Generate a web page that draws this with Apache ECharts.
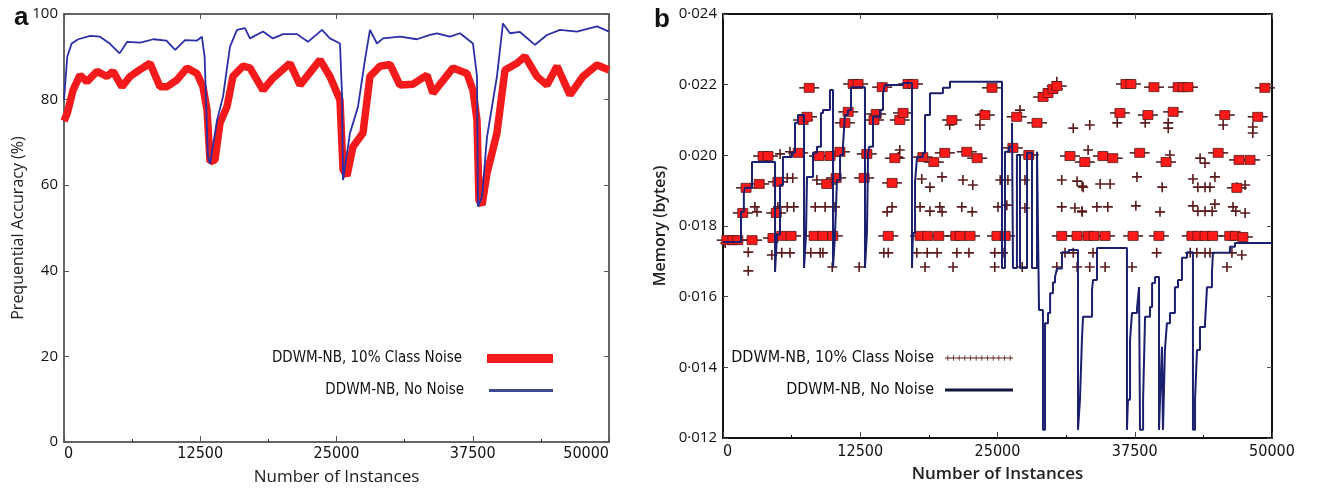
<!DOCTYPE html>
<html>
<head>
<meta charset="utf-8">
<script src="https://cdn.jsdelivr.net/npm/echarts@6/dist/echarts.min.js"></script>
<style>
html, body { margin: 0; padding: 0; background: #fff; }
#chart { width: 1317px; height: 488px; }
</style>
</head>
<body>
<div id="chart"></div>
<script>
// 横轴刻度（实例数）
var instanceTicks = [0, 12500, 25000, 37500, 50000];
var accTicks = [0, 20, 40, 60, 80, 100];
var memTicks = ['0·012', '0·014', '0·016', '0·018', '0·020', '0·022', '0·024'];

var nameNoise = 'DDWM-NB, 10% Class Noise';
var nameClean = 'DDWM-NB, No Noise';

// a: 准确率，无噪声
var accNoNoise = [
	[0, 80], [300, 90], [700, 93.1], [1300, 94.1], [2400, 94.9], [3300, 94.7], [4200, 93.1], [5100, 90.8],
	[5800, 93.5], [7000, 93.3], [8200, 94.1], [9400, 93.8], [10200, 91.6], [11100, 93.9], [12200, 93.8],
	[12650, 94.7], [12900, 90], [13200, 66.7], [13400, 65], [14040, 75.2], [14590, 80.7], [15230, 92.4],
	[15870, 96.3], [16600, 96.7], [17060, 94.3], [18260, 95.9], [19170, 94.3], [20090, 95.3], [21380, 95.3],
	[22380, 93.5], [23670, 96.3], [24400, 94.3], [25320, 93.1], [25500, 81.5], [25600, 61.2], [26240, 72.2],
	[26970, 78.3], [27610, 89.3], [28070, 96.3], [28710, 93.1], [29270, 94.3], [30820, 94.7], [32380, 94.1],
	[33580, 95.1], [34220, 95.5], [35410, 94.7], [36330, 95.5], [37520, 93.1], [37890, 85.4], [37980, 55],
	[38350, 57.3], [38810, 71.3], [39720, 85.4], [40270, 97.8], [40920, 95.5], [41830, 95.8], [43210, 92.8],
	[44310, 95.1], [45500, 96.3], [47060, 95.9], [48900, 97.1], [50000, 95.9]
];
// a: 准确率，10%类别噪声
var accNoise = [
	[0, 75], [300, 76.8], [830, 82.2], [1470, 85.7], [2110, 84.2], [3030, 86.6], [3940, 85.4],
	[4500, 86.6], [5320, 83], [6060, 85.4], [6970, 87], [7890, 88.5], [8810, 83], [9450, 83], [10370, 84.6],
	[11290, 87.4], [12200, 86.1], [12750, 83], [13120, 77.6], [13400, 65.5], [13850, 65.9], [14310, 74.5],
	[14950, 78.3], [15500, 85.4], [16420, 87.8], [17060, 87.4], [18260, 82.2], [19170, 85], [20730, 88.5],
	[21650, 83.4], [23490, 89.3], [24400, 85.4], [25320, 79.9], [25600, 63.6], [25960, 62.2], [26510, 69],
	[27430, 72.2], [28070, 85.4], [28990, 87.8], [29910, 88.2], [30820, 83.4], [32020, 83.6], [33300, 85.7],
	[33850, 81.5], [35690, 87.4], [36970, 86.1], [37520, 82.2], [37890, 75.2], [38070, 56.5], [38350, 55.4],
	[38810, 62.8], [39720, 72.2], [40460, 86.9], [41560, 88.5], [42290, 90.1], [43390, 85.4], [44310, 83.4],
	[45230, 87.8], [46420, 81.1], [47610, 85.4], [48900, 88.1], [50000, 86.9]
];

// b: 内存，无噪声（阶梯线，每点为新台阶起点）
var memNoNoise = [
	[0, 0.01755], [1640, 0.0184], [1900, 0.01893], [2000, 0.01908], [2640, 0.01981], [4740, 0.0167],
	[4920, 0.01775], [5190, 0.01916], [5460, 0.01995], [6280, 0.02007], [6560, 0.02092], [6830, 0.02114], [7380, 0.01681],
	[7560, 0.01775], [7650, 0.01939], [8200, 0.02007], [8560, 0.02024], [8920, 0.0212], [9110, 0.02128], [9740, 0.02185], [10020, 0.01684],
	[10200, 0.01775], [10380, 0.0193], [10660, 0.02001], [10930, 0.02029], [11110, 0.02114], [11380, 0.02128], [11660, 0.02193], [12930, 0.01681],
	[13110, 0.0178], [13210, 0.02001], [13300, 0.02024], [13660, 0.02109], [14300, 0.02128], [14570, 0.02176], [14750, 0.02199], [16390, 0.02205], [17210, 0.01681],
	[17300, 0.0178], [17490, 0.01925], [17670, 0.01995], [18210, 0.02007], [18400, 0.02114], [18850, 0.02176], [20030, 0.02191], [20670, 0.02208], [25410, 0.01681],
	[25680, 0.0201], [26050, 0.02024], [26320, 0.02092], [26410, 0.01681], [26770, 0.02001], [27050, 0.01681],
	[27690, 0.02007], [28140, 0.01681], [28600, 0.0201], [28780, 0.01562], [29140, 0.01223],
	[29330, 0.01525], [29600, 0.01554], [29790, 0.0161], [30050, 0.0164], [30240, 0.01656], [30420, 0.0168], [30870, 0.01726], [31500, 0.01732], [32330, 0.01223],
	[32510, 0.01308], [32690, 0.01477], [32790, 0.01543], [33610, 0.01619], [33700, 0.01647], [34060, 0.01738], [36790, 0.01223],
	[36880, 0.01308], [37070, 0.01477], [37250, 0.01554], [37710, 0.01568], [37890, 0.01627], [37980, 0.01223],
	[38260, 0.01308], [38440, 0.01543], [38890, 0.01571], [39080, 0.01639], [39350, 0.01656], [39710, 0.01223],
	[39800, 0.01308], [39980, 0.01458], [40070, 0.01223],
	[40250, 0.01449], [40430, 0.01525], [40710, 0.01554], [41160, 0.01627], [41440, 0.01647], [41800, 0.0171], [42260, 0.01726], [42800, 0.01223],
	[42990, 0.01308], [43170, 0.01449], [43440, 0.01514], [43900, 0.01525], [44080, 0.01627], [44530, 0.01667], [44620, 0.01724],
	[45900, 0.01726], [46170, 0.01741], [46630, 0.01752], [50000, 0.01752]
];
// b: 内存，10%类别噪声（+号）
var memNoisePlus = [
	[200, 0.01752], [2300, 0.01726], [2300, 0.01673], [2900, 0.01854], [3100, 0.0184], [1800, 0.01837], [4450, 0.01718],
	[5200, 0.02004], [5000, 0.01854], [4900, 0.01837], [5350, 0.01724], [6100, 0.01724], [5850, 0.01936], [6350, 0.01936],
	[5850, 0.01854], [6450, 0.01854], [6100, 0.0201], [8000, 0.01724], [8850, 0.01724], [9100, 0.01724], [8550, 0.0193],
	[9450, 0.01922], [8400, 0.01854], [9300, 0.01854], [10200, 0.01854], [9950, 0.01684], [12400, 0.01684], [14650, 0.01724],
	[15050, 0.01724], [14950, 0.0184], [15400, 0.01854], [16100, 0.02015], [15950, 0.01995],
	[18100, 0.01933], [18850, 0.0191], [19950, 0.01939], [21850, 0.0193], [22750, 0.01916], [17950, 0.01854], [18850, 0.01842],
	[19750, 0.01854], [19950, 0.0184], [21750, 0.01854], [22700, 0.0184], [17650, 0.01724], [18600, 0.01724], [19500, 0.01724],
	[21300, 0.01724], [22400, 0.01724], [18400, 0.01684], [20950, 0.01684], [23400, 0.02086], [23600, 0.02117], [20650, 0.02086],
	[25250, 0.0193], [25950, 0.0193], [27500, 0.0193], [25050, 0.01854], [25850, 0.01859], [27500, 0.01851], [24750, 0.01724],
	[25500, 0.01724], [24750, 0.01684], [27250, 0.01684], [30850, 0.0193], [32250, 0.01927], [32700, 0.01913], [30850, 0.01854],
	[32050, 0.01851], [32700, 0.0184], [30400, 0.01684], [32250, 0.01684], [31900, 0.02077], [31150, 0.01724], [31900, 0.01724],
	[27050, 0.02128], [30400, 0.02208],
	[33400, 0.02086], [35900, 0.02092], [38450, 0.02092], [40550, 0.02092], [40550, 0.02077], [45550, 0.02086], [48250, 0.0208],
	[48250, 0.02063], [33250, 0.02015], [40700, 0.02001], [43450, 0.01992], [43900, 0.01978], [32800, 0.0191], [34350, 0.01919],
	[35250, 0.01919], [37700, 0.01939], [40000, 0.0191], [42800, 0.01933], [43250, 0.0191], [43900, 0.0191], [44350, 0.0191],
	[44800, 0.01939], [46800, 0.0191], [47550, 0.01916], [32700, 0.01842], [34050, 0.01854], [35050, 0.01854], [37600, 0.01857],
	[39800, 0.0184], [42800, 0.01857], [43250, 0.01842], [43900, 0.01842], [44550, 0.01842], [44800, 0.01862], [46450, 0.01854],
	[46700, 0.01842], [47550, 0.01837], [33700, 0.01724], [39500, 0.01724], [42550, 0.01724], [43150, 0.01724], [43900, 0.01724],
	[44350, 0.01724], [46350, 0.01724], [47250, 0.01718], [33400, 0.01684], [34800, 0.01684], [37250, 0.01684], [45900, 0.01684]
];
// b: 内存，10%类别噪声（重叠处的红色方块）
var memNoiseBlocks = [
	[350, 0.0176], [900, 0.0176], [1350, 0.0176], [2650, 0.0176], [2100, 0.01908], [1800, 0.01837], [3300, 0.01919],
	[3650, 0.01998], [4100, 0.01998], [4550, 0.01766], [5000, 0.01925], [4850, 0.01837], [5350, 0.01772], [6200, 0.01772],
	[6850, 0.02007], [7300, 0.021], [7650, 0.02109], [7850, 0.02191], [8300, 0.01772], [9100, 0.01772], [8750, 0.01998],
	[9750, 0.01998], [9450, 0.01919], [10000, 0.01772], [10300, 0.01936], [10650, 0.0201], [11100, 0.02092], [11400, 0.02123],
	[11850, 0.02202], [12300, 0.02202], [13100, 0.02004], [12850, 0.01936], [13950, 0.02117], [14500, 0.02193], [13750, 0.021],
	[15050, 0.01772], [15400, 0.01922], [15650, 0.01992], [16100, 0.021], [16400, 0.0212], [16850, 0.02202], [17300, 0.02202],
	[18200, 0.01995], [19200, 0.01981], [20200, 0.02007], [20850, 0.021], [22200, 0.0201], [23150, 0.01992], [23850, 0.02114],
	[24500, 0.02191], [17950, 0.01772], [18650, 0.01772], [19650, 0.01772], [21200, 0.01772], [21600, 0.01772], [22500, 0.01772],
	[24950, 0.01772], [25700, 0.01772], [26750, 0.02109], [26400, 0.02021], [27850, 0.02001], [28600, 0.02092], [29150, 0.02165],
	[29600, 0.02176], [30050, 0.02188], [30400, 0.02196], [31600, 0.01998], [32950, 0.01981], [30850, 0.01772], [32250, 0.01772],
	[33250, 0.01772],
	[36700, 0.02202], [37150, 0.02202], [39250, 0.02193], [41450, 0.02193], [41900, 0.02193], [42350, 0.02193], [49350, 0.02191],
	[36150, 0.0212], [38700, 0.02114], [41000, 0.02123], [45700, 0.02114], [48700, 0.02109], [34600, 0.01998], [35500, 0.01992],
	[37950, 0.02007], [40350, 0.01981], [45100, 0.02007], [47000, 0.01987], [48000, 0.01987], [33800, 0.01772], [34800, 0.01772],
	[37350, 0.01772], [39700, 0.01772], [42700, 0.01772], [43250, 0.01772], [43900, 0.01772], [44600, 0.01772], [46150, 0.01772],
	[46650, 0.01772], [47350, 0.01769], [46800, 0.01908]
];

var narrowFont = "'Liberation Sans Narrow', 'DejaVu Sans Condensed', 'Arial Narrow', sans-serif";
var plainFont = "'Open Sans', 'Noto Sans', sans-serif";

// +号图例用的路径
function plus_row_path(n){
	var p = 'path://M0,4.3h' + (n * 10) + 'v1.4h-' + (n * 10) + 'z';
	for (var i = 0; i < n; i++) {
		p += 'M' + (10 * i + 4.3) + ',0h1.4v10h-1.4z';
	}
	return p;
}
var plusSymbol = 'path://M4.2,0h1.6v10h-1.6z M0,4.2h10v1.6h-10z';

function frame_axis(gridIndex, pos, min, max, interval, color, width){
	return {
		gridIndex: gridIndex, position: pos, type: 'value', min: min, max: max, interval: interval,
		axisLine: { show: true, onZero: false, lineStyle: { color: color, width: width } },
		axisTick: { show: true, inside: true, length: 5, lineStyle: { color: '#555' } },
		axisLabel: { show: false },
		splitLine: { show: false }
	};
}
function plain_number(v){
	return String(v);
}

var chart = echarts.init(document.getElementById('chart'));
var option = {
	animation: false,
	backgroundColor: '#fff',
	title: [
		{ text: 'a', left: 9, top: 0, textStyle: { fontSize: 26, fontWeight: 'bold', color: '#111', fontFamily: 'Liberation Sans' } },
		{ text: 'b', left: 649, top: 2, textStyle: { fontSize: 26, fontWeight: 'bold', color: '#111', fontFamily: 'Liberation Sans' } }
	],
	grid: [
		{ left: 64, top: 14, width: 545, height: 428, outerBoundsMode: 'none', containLabel: false },
		{ left: 723, top: 14, width: 549, height: 424, outerBoundsMode: 'none', containLabel: false }
	],
	xAxis: [
		{
			gridIndex: 0, type: 'value', min: instanceTicks[0], max: instanceTicks[4], interval: 12500,
			name: 'Number of Instances', nameLocation: 'middle', nameGap: 27,
			nameTextStyle: { fontSize: 17, color: '#222', fontFamily: plainFont },
			axisLine: { onZero: false, lineStyle: { color: '#333', width: 1.5 } },
			axisTick: { inside: true, length: 6, lineStyle: { color: '#555' } },
			minorTick: { show: true, splitNumber: 2, length: 3 },
			axisLabel: { margin: 4, fontSize: 16, color: '#111', fontFamily: narrowFont, alignMinLabel: 'left', alignMaxLabel: 'right', formatter: plain_number },
			splitLine: { show: false }
		},
		frame_axis(0, 'top', 0, 50000, 12500, '#333', 1.5),
		{
			gridIndex: 1, type: 'value', min: instanceTicks[0], max: instanceTicks[4], interval: 12500,
			name: 'Number of Instances', nameLocation: 'middle', nameGap: 28,
			nameTextStyle: { fontSize: 17, color: '#222', fontFamily: plainFont, fontWeight: 600 },
			axisLine: { onZero: false, lineStyle: { color: '#111', width: 2 } },
			axisTick: { inside: true, length: 6, lineStyle: { color: '#444' } },
			minorTick: { show: true, splitNumber: 2, length: 3 },
			axisLabel: { margin: 6, fontSize: 16, color: '#111', fontFamily: narrowFont, alignMinLabel: 'left', formatter: plain_number },
			splitLine: { show: false }
		},
		frame_axis(1, 'top', 0, 50000, 12500, '#111', 2)
	],
	yAxis: [
		{
			gridIndex: 0, type: 'value', min: accTicks[0], max: accTicks[5], interval: 20,
			name: 'Prequential Accuracy (%)', nameLocation: 'middle', nameGap: 38,
			nameTextStyle: { fontSize: 16, color: '#222', fontFamily: plainFont },
			axisLine: { onZero: false, lineStyle: { color: '#333', width: 1.5 } },
			axisTick: { inside: true, length: 5, lineStyle: { color: '#555' } },
			axisLabel: { margin: 6, fontSize: 15, color: '#111', fontFamily: plainFont },
			splitLine: { show: false }
		},
		frame_axis(0, 'right', 0, 100, 20, '#333', 1.5),
		{
			gridIndex: 1, type: 'value', min: 0.012, max: 0.024, interval: 0.002,
			name: 'Memory (bytes)', nameLocation: 'middle', nameGap: 55,
			nameTextStyle: { fontSize: 16, color: '#222', fontFamily: plainFont, fontWeight: 600 },
			axisLine: { onZero: false, lineStyle: { color: '#111', width: 2 } },
			axisTick: { inside: true, length: 5, lineStyle: { color: '#444' } },
			axisLabel: {
				margin: 6, fontSize: 15, color: '#111', fontFamily: plainFont,
				formatter: function(v){ return memTicks[Math.round((v - 0.012) / 0.002)]; }
			},
			splitLine: { show: false }
		},
		frame_axis(1, 'right', 0.012, 0.024, 0.002, '#111', 2)
	],
	legend: [
		{
			data: [{ name: nameNoise, icon: 'rect', itemStyle: { color: '#f21a1a' } }],
			right: 759, top: 346, align: 'right', itemWidth: 66, itemHeight: 9, selectedMode: false,
			textStyle: { fontSize: 15, color: '#111', fontFamily: narrowFont, padding: [0, 20, 0, 0] }
		},
		{
			data: [{ name: nameClean, icon: 'rect', itemStyle: { color: '#3d4a8e' } }],
			right: 759, top: 378, align: 'right', itemWidth: 64, itemHeight: 3, selectedMode: false,
			textStyle: { fontSize: 15, color: '#111', fontFamily: narrowFont, padding: [0, 20, 0, 0] }
		},
		{
			data: [{ name: nameNoise + '\u200b', icon: plus_row_path(12), itemStyle: { color: '#5c1a1a' } }],
			right: 299, top: 345, align: 'right', itemWidth: 68, itemHeight: 8, selectedMode: false,
			textStyle: { fontSize: 16, color: '#111', fontFamily: narrowFont, padding: [0, 6, 0, 0] }
		},
		{
			data: [{ name: nameClean + '\u200b', icon: 'rect', itemStyle: { color: '#14183a' } }],
			right: 299, top: 377, align: 'right', itemWidth: 68, itemHeight: 3, selectedMode: false,
			textStyle: { fontSize: 16, color: '#111', fontFamily: narrowFont, padding: [0, 6, 0, 0] }
		}
	],
	series: [
		{
			name: nameNoise, type: 'line', xAxisIndex: 0, yAxisIndex: 0, data: accNoise,
			showSymbol: false, lineStyle: { color: '#f21a1a', width: 7.5 }, itemStyle: { color: '#f21a1a' }
		},
		{
			name: nameClean, type: 'line', xAxisIndex: 0, yAxisIndex: 0, data: accNoNoise,
			showSymbol: false, lineStyle: { color: '#2a2fa6', width: 1.8 }, itemStyle: { color: '#2a2fa6' }
		},
		{
			name: nameNoise + '\u200b', type: 'scatter', xAxisIndex: 2, yAxisIndex: 2, data: memNoisePlus,
			symbol: plusSymbol, symbolSize: 10, itemStyle: { color: '#5c1a1a', opacity: 1 }
		},
		{
			name: 'blocks-bar', type: 'scatter', xAxisIndex: 2, yAxisIndex: 2, data: memNoiseBlocks,
			symbol: 'rect', symbolSize: [20, 1.5], itemStyle: { color: '#4a1414', opacity: 1 }
		},
		{
			name: 'blocks', type: 'scatter', xAxisIndex: 2, yAxisIndex: 2, data: memNoiseBlocks,
			symbol: 'rect', symbolSize: [10, 9], itemStyle: { color: '#ff1a1a', borderColor: '#5a1414', borderWidth: 0.8, opacity: 1 }
		},
		{
			name: nameClean + '\u200b', type: 'line', step: 'end', xAxisIndex: 2, yAxisIndex: 2, data: memNoNoise,
			showSymbol: false, lineStyle: { color: '#1a1f6e', width: 2 }, itemStyle: { color: '#1a1f6e' }
		}
	]
};
chart.setOption(option);
</script>
</body>
</html>
